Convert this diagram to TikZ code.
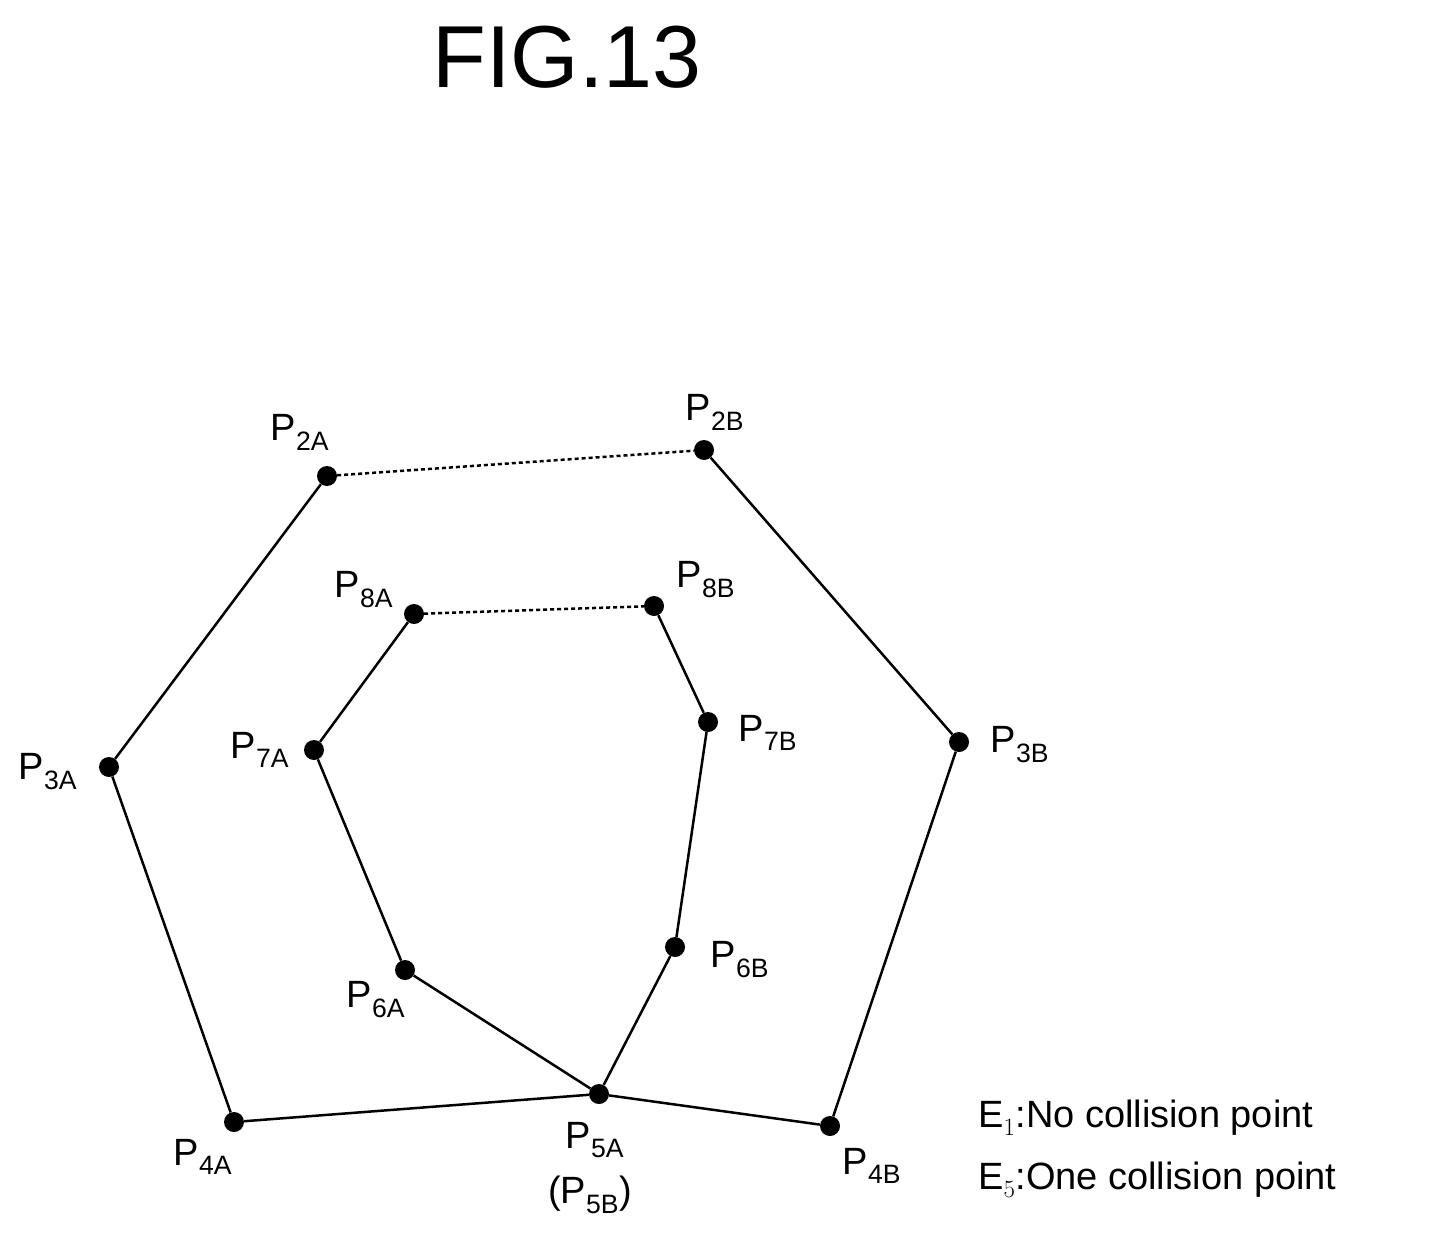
\documentclass[tikz,border=0pt]{standalone}
\usepackage{fontspec}
\setmainfont{Liberation Sans}
\begin{document}
\begin{tikzpicture}[x=1pt,y=-1pt,
  dot/.style={circle,fill=black,inner sep=0pt,minimum size=20pt},
  lbl/.style={font=\fontsize{38}{44}\selectfont,inner sep=0pt},
  edge/.style={line width=2.5pt},
  dots/.style={line width=2.5pt,dash pattern=on 4pt off 3pt}]
\useasboundingbox (0,0) rectangle (1433,1239);
\node[font=\fontsize{88}{96}\selectfont] (title) at (567,57) {FIG.13};
\foreach \n/\x/\y in {p2a/327/476,p2b/704/450,p3a/109/767,p3b/959/742,p4a/234/1122,p4b/830/1126,p5/599/1094,p6a/405/970,p6b/675/947,p7a/314/750,p7b/708/722,p8a/414/614,p8b/654/606}
  \node[dot] (\n) at (\x,\y) {};
\draw[edge] (p2a)--(p3a)--(p4a)--(p5)--(p4b)--(p3b)--(p2b);
\draw[edge] (p8a)--(p7a)--(p6a)--(p5)--(p6b)--(p7b)--(p8b);
\draw[dots] (p2a)--(p2b);
\draw[dots] (p8a)--(p8b);
\node[lbl] (l2a) at (300,432) {P$_{\mathrm{2A}}$};
\node[lbl] (l2b) at (715,412) {P$_{\mathrm{2B}}$};
\node[lbl] (l3a) at (48,772) {P$_{\mathrm{3A}}$};
\node[lbl] (l3b) at (1020,745) {P$_{\mathrm{3B}}$};
\node[lbl] (l4a) at (203,1157) {P$_{\mathrm{4A}}$};
\node[lbl] (l4b) at (872,1166) {P$_{\mathrm{4B}}$};
\node[lbl] (l5a) at (595,1140) {P$_{\mathrm{5A}}$};
\node[lbl] (l5b) at (590,1195) {(P$_{\mathrm{5B}}$)};
\node[lbl] (l6a) at (376,1000) {P$_{\mathrm{6A}}$};
\node[lbl] (l6b) at (740,960) {P$_{\mathrm{6B}}$};
\node[lbl] (l7a) at (260,750) {P$_{\mathrm{7A}}$};
\node[lbl] (l7b) at (768,733) {P$_{\mathrm{7B}}$};
\node[lbl] (l8a) at (364,590) {P$_{\mathrm{8A}}$};
\node[lbl] (l8b) at (706,580) {P$_{\mathrm{8B}}$};
\node[lbl,anchor=west] (e1) at (978,1118) {E$_1$:No collision point};
\node[lbl,anchor=west] (e5) at (978,1180) {E$_5$:One collision point};
\end{tikzpicture}
\end{document}
